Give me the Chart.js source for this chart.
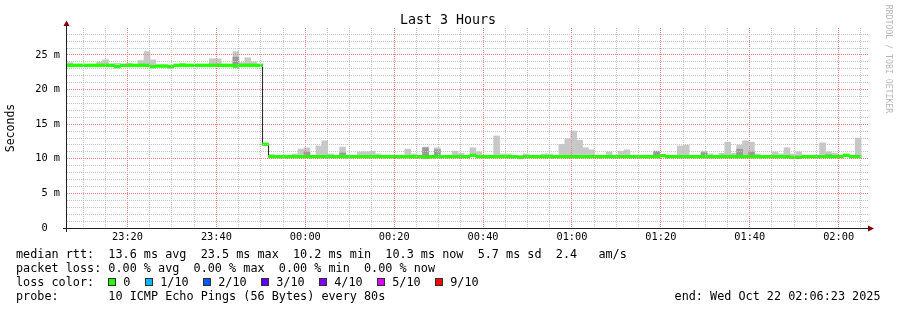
<!DOCTYPE html>
<html>
<head>
<meta charset="utf-8">
<title>Last 3 Hours</title>
<script src="https://cdn.jsdelivr.net/npm/chart.js@4.4.0/dist/chart.umd.min.js"></script>
<style>
  html, body { margin: 0; padding: 0; background: #fff; }
  #wrap { position: relative; width: 897px; height: 310px; }
</style>
</head>
<body>
<div id="wrap"><canvas id="smoke" width="897" height="310"></canvas></div>
<script>
// x axis is seconds after 23:00:00, one rrd step = 80 s
var startSec = 383;    // 23:06:23
var endSec = 11183;    // 02:06:23
var stepSec = 80;

var timeLabels = ['23:20', '23:40', '00:00', '00:20', '00:40', '01:00', '01:20', '01:40', '02:00'];
var yLabels = ['0  ', '5 m', '10 m', '15 m', '20 m', '25 m'];

// median rtt per step (ms)
var median = [
  23.5, 23.5, 23.5, 23.5, 23.5, 23.5, 23.5, 23.5, 23.3, 23.5,
  23.5, 23.5, 23.5, 23.5, 23.3, 23.4, 23.4, 23.3, 23.5, 23.5,
  23.5, 23.5, 23.5, 23.5, 23.5, 23.5, 23.5, 23.5, 23.4, 23.5,
  23.5, 23.5, 23.5, 12.1, 10.3, 10.3, 10.3, 10.3, 10.3, 10.3,
  10.3, 10.3, 10.3, 10.3, 10.3, 10.3, 10.3, 10.3, 10.3, 10.3,
  10.3, 10.3, 10.3, 10.3, 10.3, 10.3, 10.3, 10.3, 10.3, 10.3,
  10.2, 10.3, 10.3, 10.3, 10.3, 10.3, 10.3, 10.3, 10.5, 10.3,
  10.3, 10.3, 10.3, 10.3, 10.3, 10.3, 10.2, 10.3, 10.3, 10.3,
  10.3, 10.3, 10.3, 10.3, 10.3, 10.3, 10.3, 10.3, 10.3, 10.3,
  10.3, 10.3, 10.3, 10.3, 10.3, 10.3, 10.3, 10.3, 10.3, 10.3,
  10.45, 10.3, 10.3, 10.3, 10.3, 10.3, 10.3, 10.3, 10.3, 10.3,
  10.3, 10.3, 10.3, 10.3, 10.3, 10.3, 10.3, 10.3, 10.3, 10.3,
  10.3, 10.3, 10.2, 10.2, 10.3, 10.3, 10.3, 10.3, 10.3, 10.3,
  10.3, 10.5, 10.3, 10.3
];

// top of the light smoke (slowest pings), null = no smoke
var smokeHigh = [
  23.9, null, null, null, null, 24.0, 24.3, null, 23.8, null,
  23.8, null, 24.2, 25.5, 24.3, null, null, null, null, 23.8,
  null, null, null, null, 24.45, 24.45, null, null, 25.5, 23.9,
  24.6, 24.0, null, null, 10.55, null, null, null, 10.7, 11.4,
  11.6, 10.5, 11.85, 12.6, 10.7, null, 11.7, 10.5, null, 11.0,
  11.0, 11.1, 10.7, null, null, null, null, 11.4, 10.7, null,
  11.7, null, 11.6, null, 10.5, 11.1, 10.8, null, 11.6, 11.0,
  null, null, 13.3, 10.7, 10.7, null, 10.5, 10.7, null, 10.5,
  10.7, 10.7, null, 12.1, 12.9, 14.0, 12.7, 11.6, 11.3, null,
  10.5, 11.0, null, 11.1, 11.3, null, null, 10.5, null, 11.1,
  null, null, null, 11.85, 12.0, 10.5, null, 11.1, 10.7, null,
  10.8, 12.4, 10.8, 12.0, 12.6, 12.4, 10.7, null, null, 11.0,
  10.7, 11.6, 10.7, 11.0, null, 10.5, null, 12.3, 11.0, 10.8,
  null, null, null, 13.0
];

// top of the darker inner smoke, null = none
var smokeMid = [
  null, null, null, null, null, null, null, null, null, null,
  null, null, null, null, null, null, null, null, null, null,
  null, null, null, null, null, null, null, null, 24.7, null,
  null, null, null, null, 10.55, null, null, null, null, null,
  11.0, null, null, null, null, null, 10.85, null, null, null,
  null, null, null, null, null, null, null, null, null, null,
  11.6, null, 11.3, null, null, null, null, null, 10.5, null,
  null, null, 10.5, null, null, null, null, null, null, null,
  null, null, null, 10.5, 10.5, null, null, null, null, null,
  10.5, null, null, null, null, null, null, null, null, 11.1,
  null, null, null, null, null, null, null, 10.9, null, null,
  null, null, null, 11.4, null, 11.0, null, null, null, null,
  null, null, null, null, null, null, null, null, 10.6, null,
  null, null, null, null
];

var lossLabels = ['0', '1/10', '2/10', '3/10', '4/10', '5/10', '9/10'];
var lossColors = ['#26ff00', '#00b8ff', '#0059ff', '#5e00ff', '#7e00ff', '#dd00ff', '#ff0000'];

var statLines = [
  'median rtt:  13.6 ms avg  23.5 ms max  10.2 ms min  10.3 ms now  5.7 ms sd  2.4   am/s',
  'packet loss: 0.00 % avg  0.00 % max  0.00 % min  0.00 % now'
];
var probeText = 'probe:       10 ICMP Echo Pings (56 Bytes) every 80s';
var endText = 'end: Wed Oct 22 02:06:23 2025';

var mono = '"DejaVu Sans Mono", monospace';
var bandHalf = 0.2;
var majorGrid = '#f08080';
var minorGrid = '#c4c4c4';

var lightBars = [], midBars = [], greenBars = [], medianPts = [];
for (var i = 0; i < median.length; i++) {
  var x = startSec + (i + 0.5) * stepSec;
  if (smokeHigh[i] !== null) lightBars.push({ x: x, y: [median[i], smokeHigh[i]] });
  if (smokeMid[i] !== null) midBars.push({ x: x, y: [median[i], smokeMid[i]] });
  greenBars.push({ x: x, y: [median[i] - bandHalf, median[i] + bandHalf] });
  medianPts.push({ x: x, y: median[i] });
}

// rrdtool style dotted grid, drawn over the smoke
var dotGrid = {
  id: 'dotGrid',
  afterDatasetsDraw: function (chart) {
    var ctx = chart.ctx;
    var a = chart.chartArea;
    var xs = chart.scales.x, ys = chart.scales.y;
    ctx.save();
    xs.ticks.forEach(function (t) {
      var cx = Math.floor(xs.getPixelForValue(t.value));
      ctx.fillStyle = t.value % 1200 === 0 ? majorGrid : minorGrid;
      for (var y = a.top; y < a.bottom; y += 2) ctx.fillRect(cx, y, 1, 1);
    });
    ys.ticks.forEach(function (t) {
      if (t.value === 0) return;
      var ry = Math.floor(ys.getPixelForValue(t.value));
      ctx.fillStyle = t.value % 5 === 0 ? majorGrid : minorGrid;
      for (var x = a.left; x < a.right + 1; x += 2) ctx.fillRect(x, ry, 1, 1);
    });
    ctx.restore();
  }
};

var rrdDecor = {
  id: 'rrdDecor',
  afterDraw: function (chart) {
    var ctx = chart.ctx;
    var a = chart.chartArea;
    ctx.save();

    // axes + arrows
    ctx.strokeStyle = '#202020';
    ctx.lineWidth = 1;
    ctx.beginPath();
    ctx.moveTo(a.left - 0.5, a.bottom + 4);
    ctx.lineTo(a.left - 0.5, a.top - 3);
    ctx.moveTo(a.left - 4, a.bottom + 0.5);
    ctx.lineTo(a.right + 2, a.bottom + 0.5);
    ctx.stroke();
    ctx.fillStyle = '#800000';
    ctx.beginPath();
    ctx.moveTo(a.left - 3.5, a.top - 2);
    ctx.lineTo(a.left + 2.5, a.top - 2);
    ctx.lineTo(a.left - 0.5, a.top - 7.5);
    ctx.closePath();
    ctx.fill();
    ctx.beginPath();
    ctx.moveTo(a.right + 1, a.bottom - 2.5);
    ctx.lineTo(a.right + 1, a.bottom + 3.5);
    ctx.lineTo(a.right + 7, a.bottom + 0.5);
    ctx.closePath();
    ctx.fill();

    // title
    ctx.fillStyle = '#000';
    ctx.textAlign = 'center';
    ctx.textBaseline = 'alphabetic';
    ctx.font = '13.3px ' + mono;
    ctx.fillText('Last 3 Hours', 448, 24);

    // unit label
    ctx.save();
    ctx.translate(11, (a.top + a.bottom) / 2);
    ctx.rotate(-Math.PI / 2);
    ctx.font = '11.5px ' + mono;
    ctx.textBaseline = 'middle';
    ctx.fillText('Seconds', 0, 0);
    ctx.restore();

    // watermark
    ctx.save();
    ctx.translate(888, 59);
    ctx.rotate(Math.PI / 2);
    ctx.font = '8.2px ' + mono;
    ctx.fillStyle = 'rgba(0,0,0,0.3)';
    ctx.textBaseline = 'middle';
    ctx.fillText('RRDTOOL / TOBI OETIKER', 0, 0);
    ctx.restore();

    // legend block
    ctx.font = '11.8px ' + mono;
    ctx.textAlign = 'left';
    ctx.textBaseline = 'alphabetic';
    ctx.fillStyle = '#000';
    ctx.fillText(statLines[0], 16, 258);
    ctx.fillText(statLines[1], 16, 272);
    ctx.fillText('loss color:', 16, 286);
    var cw = ctx.measureText('0').width;
    var bx = 108;
    for (var k = 0; k < lossLabels.length; k++) {
      ctx.fillStyle = lossColors[k];
      ctx.fillRect(bx, 278, 8, 8);
      ctx.strokeStyle = '#303030';
      ctx.strokeRect(bx + 0.5, 278.5, 7, 7);
      ctx.fillStyle = '#000';
      var tx = bx + 15.2;
      ctx.fillText(lossLabels[k], tx, 286);
      bx = Math.round(tx + lossLabels[k].length * cw + 14.2);
    }
    ctx.fillText(probeText, 16, 299.5);
    ctx.textAlign = 'right';
    ctx.fillText(endText, 880.5, 299.5);
    ctx.restore();
  }
};

new Chart(document.getElementById('smoke').getContext('2d'), {
  type: 'bar',
  data: {
    datasets: [
      { type: 'bar', data: greenBars, backgroundColor: lossColors[0], order: 0 },
      { type: 'line', data: medianPts, borderColor: '#202020', borderWidth: 1,
        stepped: 'middle', pointRadius: 0, fill: false, order: 1 },
      { type: 'bar', data: midBars, backgroundColor: '#9a9a9a', order: 2 },
      { type: 'bar', data: lightBars, backgroundColor: '#c8c8c8', order: 3 }
    ]
  },
  options: {
    responsive: false,
    animation: false,
    layout: { padding: { top: 28, right: 30, bottom: 0, left: 0 } },
    datasets: {
      bar: { grouped: false, categoryPercentage: 1, barPercentage: 1, borderWidth: 0 }
    },
    plugins: { legend: { display: false }, tooltip: { enabled: false } },
    scales: {
      x: {
        type: 'linear',
        min: startSec,
        max: endSec,
        offset: false,
        grid: { display: false, offset: false, drawTicks: false },
        border: { display: false },
        afterBuildTicks: function (axis) {
          var t = [];
          for (var v = Math.ceil(startSec / 300) * 300; v < endSec; v += 300) t.push({ value: v });
          axis.ticks = t;
        },
        afterFit: function (axis) { axis.height = 82; },
        ticks: {
          autoSkip: false,
          maxRotation: 0,
          padding: 3,
          color: '#000',
          font: { family: mono, size: 10.3 },
          callback: function (v) { return v % 1200 === 0 ? timeLabels[v / 1200 - 1] : ''; }
        }
      },
      y: {
        min: 0,
        max: 28.9,
        grid: { display: false, drawTicks: false },
        border: { display: false },
        afterBuildTicks: function (axis) {
          var t = [];
          for (var v = 0; v <= 28; v++) t.push({ value: v });
          axis.ticks = t;
        },
        afterFit: function (axis) { axis.width = 67; },
        ticks: {
          autoSkip: false,
          padding: 7,
          color: '#000',
          font: { family: mono, size: 10.3 },
          callback: function (v) { return v % 5 === 0 ? yLabels[v / 5] : ''; }
        }
      }
    }
  },
  plugins: [dotGrid, rrdDecor]
});
</script>
</body>
</html>
